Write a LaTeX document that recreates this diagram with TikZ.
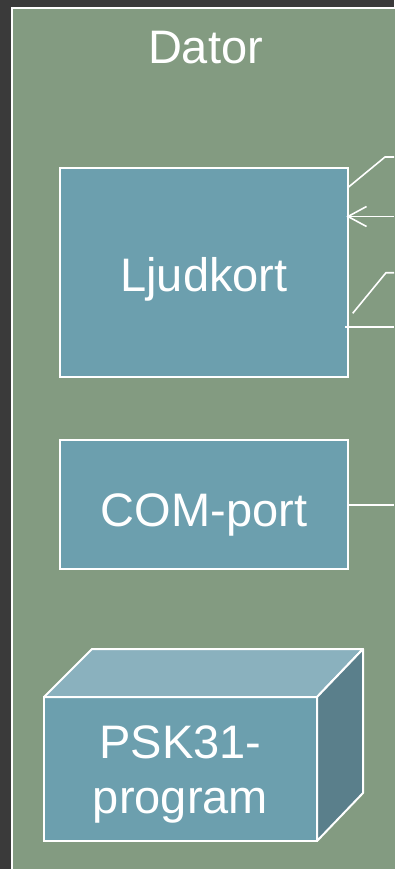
\documentclass[tikz,border=0pt]{standalone}
\usepackage{fontspec}
\setmainfont{Liberation Sans}
\definecolor{bgdark}{HTML}{3A3A3A}
\definecolor{panel}{HTML}{839B81}
\definecolor{boxfill}{HTML}{6C9FAE}
\definecolor{topface}{HTML}{8AB1BE}
\definecolor{sideface}{HTML}{5A7F8B}
\tikzset{
  compbox/.style={draw=white, line width=2pt, fill=boxfill, inner sep=0pt, outer sep=0pt},
  lbl/.style={text=white, font=\fontsize{47}{55}\selectfont, inner sep=0pt, anchor=base},
  wire/.style={draw=white, line width=1.6pt},
}
\begin{document}
\begin{tikzpicture}[x=1pt,y=-1pt]
\useasboundingbox (0,0) rectangle (394,869);
\fill[bgdark] (0,0) rectangle (394,869);
\draw[white, line width=1.5pt, fill=panel] (12,8) rectangle (420,900);
\node[lbl] (dator) at (205.5,64) {Dator};
% Ljudkort
\node[compbox, minimum width=288pt, minimum height=209pt] (ljud) at (204,272.5) {};
\node[lbl] (ljudtxt) at (204,291) {Ljudkort};
% COM-port
\node[compbox, minimum width=288pt, minimum height=129pt] (com) at (204,504.5) {};
\node[lbl] (comtxt) at (204,526) {COM-port};
% PSK31 cube
\node[compbox, minimum width=273pt, minimum height=144pt] (psk) at (180.5,769) {};
\draw[white, line width=2pt, fill=topface, line join=round]
  (psk.north west) -- ++(48,-48) -- ++(271,0) -- (psk.north east) -- cycle;
\draw[white, line width=2pt, fill=sideface, line join=round]
  (psk.north east) -- ++(46,-48) -- ++(0,144) -- (psk.south east) -- cycle;
\node[lbl, align=center] (psktxt1) at (180.5,758) {PSK31-};
\node[lbl] (psktxt2) at (180.5,813) {program};
% connectors
\coordinate (e1) at (394,157);
\coordinate (e2) at (394,216.5);
\coordinate (s3) at (352.7,313.3);
\coordinate (e3) at (394,272.7);
\coordinate (e4) at (394,326.7);
\coordinate (e5) at (394,504.7);
\draw[wire] (ljud.east |- 0,187.5) -- (385,157) -- (e1);
\draw[wire] (e2) -- (ljud.east |- e2);
\draw[wire] (366.5,206.5) -- (ljud.east |- e2) -- (366.5,226.5);
\draw[wire] (s3) -- (386,272.7) -- (e3);
\draw[wire] (345,326.7) -- (e4);
\draw[wire] (com.east |- e5) -- (e5);
\end{tikzpicture}
\end{document}
